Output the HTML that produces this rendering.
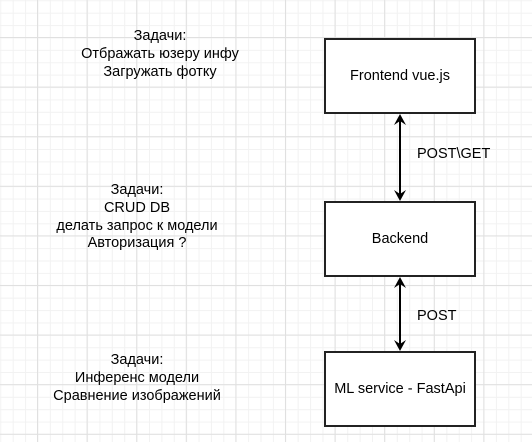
<!DOCTYPE html>
<html><head><meta charset="utf-8"><style>
html,body{margin:0;padding:0}
body{width:532px;height:442px;position:relative;overflow:hidden;background:#fff;
background-image:linear-gradient(#e0e0e0 1px,transparent 1px),linear-gradient(90deg,#e0e0e0 1px,transparent 1px),linear-gradient(#f2f2f2 1px,transparent 1px),linear-gradient(90deg,#f2f2f2 1px,transparent 1px);
background-size:49.6px 49.6px,49.6px 49.6px,12.4px 12.4px,12.4px 12.4px;
background-position:0 37px,37px 0,0 0.3px,0.3px 0;
font-family:"Liberation Sans",Arial,sans-serif;color:#000}
.t{position:absolute;text-align:center;font-size:14.5px;line-height:17.8px;white-space:nowrap;transform:translateX(-50%)}
.b{position:absolute;left:324px;width:148px;height:72px;border:2px solid #222;background:#fff;display:flex;align-items:center;justify-content:center;font-size:14.5px}
</style></head><body>
<div class="t" style="left:160px;top:28px">Задачи:<br>Отбражать юзеру инфу<br>Загружать фотку</div>
<div class="t" style="left:137px;top:182px">Задачи:<br>CRUD DB<br>делать запрос к модели<br>Авторизация ?</div>
<div class="t" style="left:137px;top:352px">Задачи:<br>Инференс модели<br>Сравнение изображений</div>
<div class="b" style="top:38px">Frontend vue.js</div>
<div class="b" style="top:201px">Backend</div>
<div class="b" style="top:351px">ML service - FastApi</div>
<svg width="532" height="442" style="position:absolute;left:0;top:0">
<g stroke="#000" stroke-width="2" fill="none">
<line x1="400" y1="118" x2="400" y2="197"/>
<line x1="400" y1="281" x2="400" y2="347"/>
</g>
<g fill="#000">
<path d="M400 114 L394 125 L400 121 L406 125Z"/>
<path d="M400 201 L394 190 L400 194 L406 190Z"/>
<path d="M400 277 L394 288 L400 284 L406 288Z"/>
<path d="M400 351 L394 340 L400 344 L406 340Z"/>
</g>
</svg>
<div style="position:absolute;left:417px;top:146px;font-size:14.5px">POST\GET</div>
<div style="position:absolute;left:417px;top:308px;font-size:14.5px">POST</div>
</body></html>
